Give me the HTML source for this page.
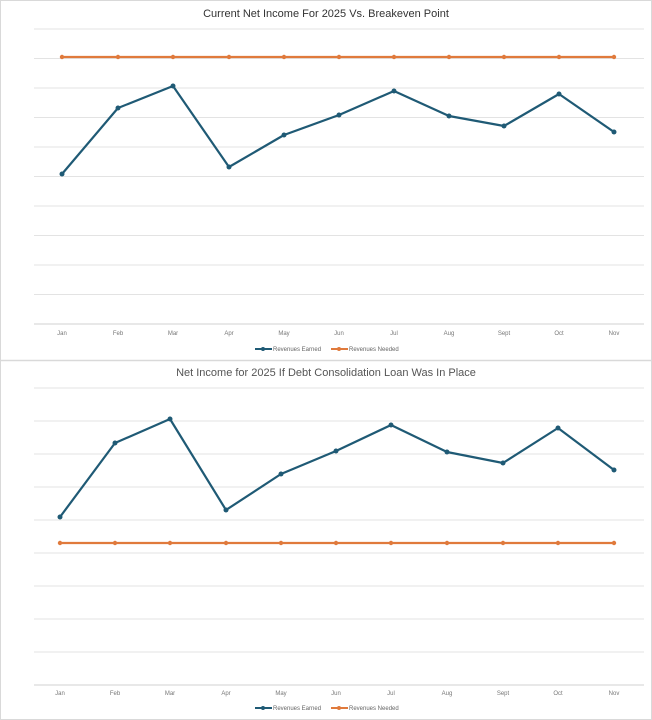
<!DOCTYPE html>
<html><head><style>body{margin:0;background:#fff}svg{display:block}</style></head><body>
<svg width="652" height="720" xmlns="http://www.w3.org/2000/svg" font-family="Liberation Sans, sans-serif">
<rect x="0.5" y="0.5" width="651" height="719" fill="#fff" stroke="#d9d9d9"/>
<line x1="0" y1="360.5" x2="652" y2="360.5" stroke="#d9d9d9" stroke-width="1.5"/>
<g stroke="#e3e3e3" stroke-width="1">
<line x1="34" x2="644" y1="29" y2="29"/><line x1="34" x2="644" y1="58.5" y2="58.5"/><line x1="34" x2="644" y1="88" y2="88"/><line x1="34" x2="644" y1="117.5" y2="117.5"/><line x1="34" x2="644" y1="147" y2="147"/><line x1="34" x2="644" y1="176.5" y2="176.5"/><line x1="34" x2="644" y1="206" y2="206"/><line x1="34" x2="644" y1="235.5" y2="235.5"/><line x1="34" x2="644" y1="265" y2="265"/><line x1="34" x2="644" y1="294.5" y2="294.5"/><line x1="34" x2="644" y1="324" y2="324" stroke="#d0d0d0"/>
<line x1="34" x2="644" y1="388" y2="388"/><line x1="34" x2="644" y1="421" y2="421"/><line x1="34" x2="644" y1="454" y2="454"/><line x1="34" x2="644" y1="487" y2="487"/><line x1="34" x2="644" y1="520" y2="520"/><line x1="34" x2="644" y1="553" y2="553"/><line x1="34" x2="644" y1="586" y2="586"/><line x1="34" x2="644" y1="619" y2="619"/><line x1="34" x2="644" y1="652" y2="652"/><line x1="34" x2="644" y1="685" y2="685" stroke="#d0d0d0"/>
</g>
<text x="326" y="17" text-anchor="middle" font-size="11" fill="#333">Current Net Income For 2025 Vs. Breakeven Point</text>
<text x="326" y="376" text-anchor="middle" font-size="11" fill="#555">Net Income for 2025 If Debt Consolidation Loan Was In Place</text>
<g font-size="6" fill="#777" text-anchor="middle">
<text x="62" y="335">Jan</text><text x="118" y="335">Feb</text><text x="173" y="335">Mar</text><text x="229" y="335">Apr</text><text x="284" y="335">May</text><text x="339" y="335">Jun</text><text x="394" y="335">Jul</text><text x="449" y="335">Aug</text><text x="504" y="335">Sept</text><text x="559" y="335">Oct</text><text x="614" y="335">Nov</text>
<text x="60" y="695">Jan</text><text x="115" y="695">Feb</text><text x="170" y="695">Mar</text><text x="226" y="695">Apr</text><text x="281" y="695">May</text><text x="336" y="695">Jun</text><text x="391" y="695">Jul</text><text x="447" y="695">Aug</text><text x="503" y="695">Sept</text><text x="558" y="695">Oct</text><text x="614" y="695">Nov</text>
</g>
<g font-size="6" fill="#666">
<line x1="255" x2="272" y1="349" y2="349" stroke="#1f5a75" stroke-width="2"/><circle cx="263" cy="349" r="2" fill="#1f5a75"/><text x="273" y="351">Revenues Earned</text>
<line x1="331" x2="348" y1="349" y2="349" stroke="#e07a3c" stroke-width="2"/><circle cx="339" cy="349" r="2" fill="#e07a3c"/><text x="349" y="351">Revenues Needed</text>
<line x1="255" x2="272" y1="708" y2="708" stroke="#1f5a75" stroke-width="2"/><circle cx="263" cy="708" r="2" fill="#1f5a75"/><text x="273" y="710">Revenues Earned</text>
<line x1="331" x2="348" y1="708" y2="708" stroke="#e07a3c" stroke-width="2"/><circle cx="339" cy="708" r="2" fill="#e07a3c"/><text x="349" y="710">Revenues Needed</text>
</g>
<g stroke-width="2.2" fill="none" stroke-linejoin="round">
<polyline stroke="#e07a3c" points="62,57 118,57 173,57 229,57 284,57 339,57 394,57 449,57 504,57 559,57 614,57"/>
<polyline stroke="#1f5a75" points="62,174 118,108 173,86 229,167 284,135 339,115 394,91 449,116 504,126 559,94 614,132"/>
<polyline stroke="#e07a3c" points="60,543 115,543 170,543 226,543 281,543 336,543 391,543 447,543 503,543 558,543 614,543"/>
<polyline stroke="#1f5a75" points="60,517 115,443 170,419 226,510 281,474 336,451 391,425 447,452 503,463 558,428 614,470"/>
</g>
<g fill="#e07a3c">
<circle cx="62" cy="57" r="2.2"/><circle cx="118" cy="57" r="2.2"/><circle cx="173" cy="57" r="2.2"/><circle cx="229" cy="57" r="2.2"/><circle cx="284" cy="57" r="2.2"/><circle cx="339" cy="57" r="2.2"/><circle cx="394" cy="57" r="2.2"/><circle cx="449" cy="57" r="2.2"/><circle cx="504" cy="57" r="2.2"/><circle cx="559" cy="57" r="2.2"/><circle cx="614" cy="57" r="2.2"/>
<circle cx="60" cy="543" r="2.2"/><circle cx="115" cy="543" r="2.2"/><circle cx="170" cy="543" r="2.2"/><circle cx="226" cy="543" r="2.2"/><circle cx="281" cy="543" r="2.2"/><circle cx="336" cy="543" r="2.2"/><circle cx="391" cy="543" r="2.2"/><circle cx="447" cy="543" r="2.2"/><circle cx="503" cy="543" r="2.2"/><circle cx="558" cy="543" r="2.2"/><circle cx="614" cy="543" r="2.2"/>
</g>
<g fill="#1f5a75">
<circle cx="62" cy="174" r="2.5"/><circle cx="118" cy="108" r="2.5"/><circle cx="173" cy="86" r="2.5"/><circle cx="229" cy="167" r="2.5"/><circle cx="284" cy="135" r="2.5"/><circle cx="339" cy="115" r="2.5"/><circle cx="394" cy="91" r="2.5"/><circle cx="449" cy="116" r="2.5"/><circle cx="504" cy="126" r="2.5"/><circle cx="559" cy="94" r="2.5"/><circle cx="614" cy="132" r="2.5"/>
<circle cx="60" cy="517" r="2.5"/><circle cx="115" cy="443" r="2.5"/><circle cx="170" cy="419" r="2.5"/><circle cx="226" cy="510" r="2.5"/><circle cx="281" cy="474" r="2.5"/><circle cx="336" cy="451" r="2.5"/><circle cx="391" cy="425" r="2.5"/><circle cx="447" cy="452" r="2.5"/><circle cx="503" cy="463" r="2.5"/><circle cx="558" cy="428" r="2.5"/><circle cx="614" cy="470" r="2.5"/>
</g>
</svg>
</body></html>
